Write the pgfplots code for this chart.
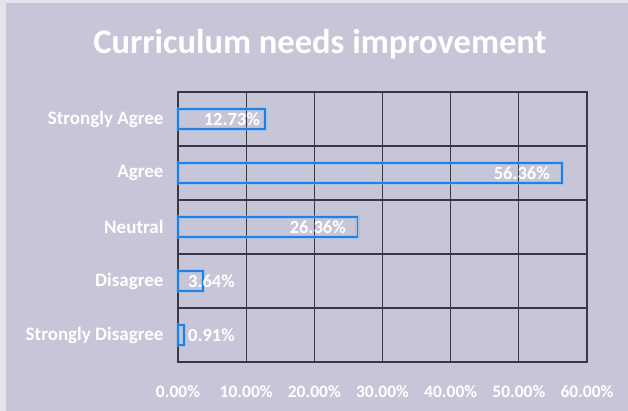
\documentclass[border=0pt]{standalone}
\usepackage{pgfplots}
\pgfplotsset{compat=1.18}
\usepackage{pgfplotstable}
\usepackage{fontspec}
\setmainfont{Carlito}
\definecolor{bg}{HTML}{C7C6D9}
\definecolor{edge}{HTML}{E4E3EC}
\definecolor{gridc}{HTML}{38383F}
\definecolor{barblue}{HTML}{1F80EA}
\pgfplotstableread{
x y
0.91 0
3.64 1
26.36 2
56.36 3
12.73 4
}\bars
\pgfplotstableread{
lx y label
1.47 0 0.91\%
1.47 1 3.64\%
}\labelsW
\pgfplotstableread{
lx y label
24.64 2 26.36\%
54.57 3 56.36\%
12.03 4 12.73\%
}\labelsE
\begin{document}
\begin{tikzpicture}
\fill[bg] (-178pt,-49pt) rectangle (450pt,362pt);
\fill[edge] (-178pt,-49pt) rectangle (-172pt,362pt);
\fill[edge] (-178pt,359pt) rectangle (450pt,362pt);
\node[anchor=base, text=white, font=\fontsize{34.5}{38}\selectfont\bfseries] at (142pt,308pt) {Curriculum needs improvement};
\begin{axis}[
  at={(0pt,0pt)}, anchor=south west,
  scale only axis, width=409pt, height=270pt,
  xmin=0, xmax=60, ymin=-0.5, ymax=4.5,
  axis line style={gridc, line width=1.1pt},
  xtick={0,10,...,60},
  xticklabels={0.00\%,10.00\%,20.00\%,30.00\%,40.00\%,50.00\%,60.00\%},
  ytick={0,1,2,3,4},
  yticklabels={Strongly Disagree,Disagree,Neutral,Agree,Strongly Agree},
  minor ytick={-0.5,0.5,...,4.5},
  xmajorgrids, yminorgrids,
  grid style={gridc, line width=1.1pt},
  minor grid style={gridc, line width=1.1pt},
  major tick length=0pt, minor tick length=0pt,
  tick label style={text=white},
  xticklabel style={yshift=-20pt, font=\fontsize{17.5}{19}\selectfont\bfseries},
  yticklabel style={xshift=-11pt, font=\fontsize{19}{21}\selectfont\bfseries},
  /pgf/number format/assume math mode=true,
  clip=false,
]
\addplot[xbar, bar width=20pt, bar shift=0pt, fill=none, draw=barblue!55, line width=4.5pt, opacity=0.45] table[x=x,y=y] {\bars};
\addplot[xbar, bar width=20pt, bar shift=0pt, fill=none, draw=barblue, line width=1.6pt] table[x=x,y=y] {\bars};
\addplot[draw=none, mark=none, nodes near coords, point meta=explicit symbolic,
  every node near coord/.append style={anchor=west, text=white, font=\fontsize{18.5}{20}\selectfont\bfseries, inner sep=0pt}]
  table[x=lx, y=y, meta=label] {\labelsW};
\addplot[draw=none, mark=none, nodes near coords, point meta=explicit symbolic,
  every node near coord/.append style={anchor=east, text=white, font=\fontsize{18.5}{20}\selectfont\bfseries, inner sep=0pt}]
  table[x=lx, y=y, meta=label] {\labelsE};
\end{axis}
\end{tikzpicture}
\end{document}
